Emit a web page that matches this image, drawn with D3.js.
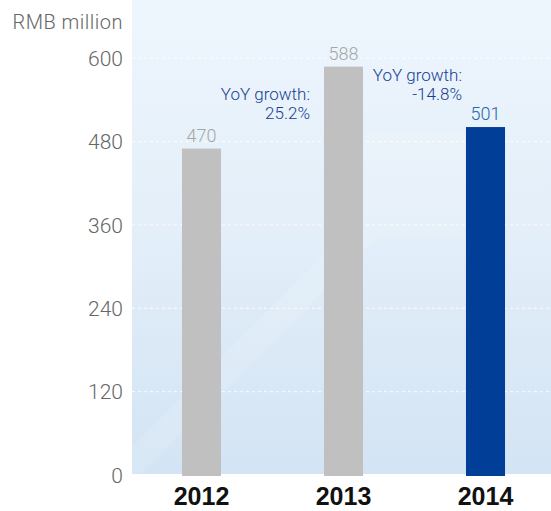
<!DOCTYPE html>
<html>
<head>
<meta charset="utf-8">
<script src="https://cdn.jsdelivr.net/npm/d3@7"></script>
<style>
  html, body { margin: 0; padding: 0; background: #fff; }
  svg { display: block; }
</style>
</head>
<body>
<svg id="chart" width="551" height="511"></svg>
<script>
// Revenue by year, RMB million
const years = ["2012", "2013", "2014"];
const revenue = [470, 588, 501];
const highlight = [false, false, true];
const yTicks = [0, 120, 240, 360, 480, 600];
const unitLabel = "RMB million";
// Year-on-year notes, placed between consecutive bars
const growthTitle = ["YoY growth:", "YoY growth:"];
const growthValue = ["25.2%", "-14.8%"];

const W = 551, H = 511;
const plot = { left: 132, right: 551, top: 0, bottom: 474 };
const lightFont = "Roboto, 'Liberation Sans', sans-serif";

const svg = d3.select("#chart");

const x = d3.scaleBand()
  .domain(years)
  .range([130.5, 556.5])
  .paddingInner(0.725)
  .paddingOuter(0.3625);

const y = d3.scaleLinear()
  .domain([0, 600])
  .range([475, 58.3]);

// Background panel with soft vertical gradient
const defs = svg.append("defs");
const grad = defs.append("linearGradient")
  .attr("id", "panelGrad")
  .attr("x1", 0).attr("y1", 0).attr("x2", 0).attr("y2", 1);
grad.append("stop").attr("offset", "0%").attr("stop-color", "#eef6fd");
grad.append("stop").attr("offset", "45%").attr("stop-color", "#e4eff9");
grad.append("stop").attr("offset", "100%").attr("stop-color", "#d3e4f4");

svg.append("rect")
  .attr("x", plot.left).attr("y", plot.top)
  .attr("width", plot.right - plot.left)
  .attr("height", plot.bottom - plot.top)
  .attr("fill", "url(#panelGrad)");

// Faint rising-arrow watermark in the panel
const arrowPts = [
  [132, 447], [363, 216], [363, 133], [465, 133],
  [465, 237], [378, 237], [141, 474], [132, 474]
];
svg.append("path")
  .attr("d", d3.line()(arrowPts) + "Z")
  .attr("fill", "#ffffff")
  .attr("fill-opacity", 0.12);

// Dashed horizontal gridlines
svg.append("g")
  .selectAll("line")
  .data(yTicks.filter(d => d > 0))
  .join("line")
  .attr("x1", plot.left).attr("x2", plot.right)
  .attr("y1", d => y(d)).attr("y2", d => y(d))
  .attr("stroke", "#ffffff")
  .attr("stroke-opacity", 0.85)
  .attr("stroke-width", 1)
  .attr("stroke-dasharray", "3,3");

// Y axis labels
const yAxis = svg.append("g")
  .attr("transform", "translate(123,0)")
  .call(d3.axisLeft(y).tickValues(yTicks).tickSize(0).tickPadding(0));
yAxis.select(".domain").remove();
yAxis.selectAll("text")
  .attr("font-family", lightFont)
  .attr("font-weight", 300)
  .attr("font-size", 21)
  .attr("fill", "#666666")
  .attr("dy", "0.34em");

svg.append("text")
  .attr("x", 123).attr("y", 29)
  .attr("text-anchor", "end")
  .attr("font-family", lightFont)
  .attr("font-weight", 300)
  .attr("font-size", 20)
  .attr("letter-spacing", 0.5)
  .attr("fill", "#666666")
  .text(unitLabel);

// Bars
const data = years.map((yr, i) => ({ year: yr, value: revenue[i], hi: highlight[i] }));

svg.append("g")
  .selectAll("rect")
  .data(data)
  .join("rect")
  .attr("x", d => x(d.year))
  .attr("y", d => y(d.value))
  .attr("width", x.bandwidth())
  .attr("height", d => y(0) - y(d.value) + 1)
  .attr("fill", d => d.hi ? "#003e97" : "#bfc0bf");

// Value labels above bars
svg.append("g")
  .selectAll("text")
  .data(data)
  .join("text")
  .attr("x", d => x(d.year) + x.bandwidth() / 2)
  .attr("y", d => y(d.value) - 7)
  .attr("text-anchor", "middle")
  .attr("font-family", lightFont)
  .attr("font-weight", 300)
  .attr("font-size", 18)
  .attr("fill", d => d.hi ? "#2466b3" : "#a6a6a6")
  .text(d => d.value);

// Year labels
const xAxis = svg.append("g")
  .attr("transform", "translate(0,486)")
  .call(d3.axisBottom(x).tickSize(0).tickPadding(0));
xAxis.select(".domain").remove();
xAxis.selectAll("text")
  .attr("font-family", "'Liberation Sans', Arial, sans-serif")
  .attr("font-weight", 700)
  .attr("font-size", 25)
  .attr("fill", "#111111")
  .attr("dy", "0.76em");

// Growth notes: right-aligned in the gap before the later bar
const notes = growthTitle.map((t, i) => ({
  title: t, value: growthValue[i], to: years[i + 1]
}));
const noteG = svg.append("g")
  .selectAll("text")
  .data(notes)
  .join("text")
  .attr("text-anchor", "end")
  .attr("font-family", lightFont)
  .attr("font-weight", 300)
  .attr("font-size", 17)
  .attr("fill", "#163f93")
  .attr("transform", (d, i) => {
    const xr = x(d.to) - (i === 0 ? 14 : 4);
    const yb = i === 0 ? 100 : 81;
    return `translate(${xr},${yb})`;
  });
noteG.append("tspan").attr("x", 0).attr("y", 0).text(d => d.title);
noteG.append("tspan").attr("x", 0).attr("y", 18.5).text(d => d.value);
</script>
</body>
</html>
